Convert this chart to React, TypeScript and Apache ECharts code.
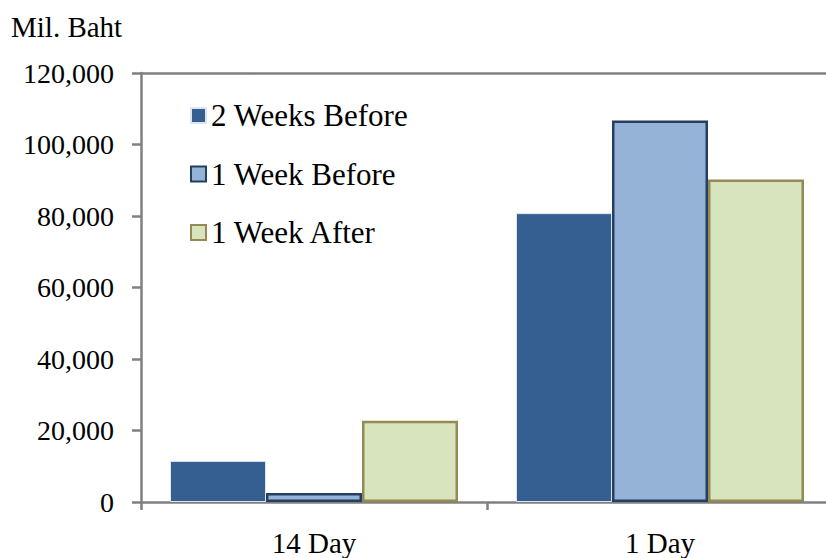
import React, { useEffect, useRef } from "react";
import * as echarts from "echarts";

const categories = ["14 Day", "1 Day"];
const seriesNames = ["2 Weeks Before", "1 Week Before", "1 Week After"];
const twoWeeksBefore = [11500, 80800];
const oneWeekBefore = [2500, 106700];
const oneWeekAfter = [22700, 90200];
const yTicks = [0, 20000, 40000, 60000, 80000, 100000, 120000];

const FONT = "Liberation Serif";

export default function App() {
  const ref = useRef<HTMLDivElement>(null);
  useEffect(() => {
    if (!ref.current) return;
    document.body.style.margin = "0";
    document.body.style.overflow = "hidden";
    const chart = echarts.init(ref.current, null, { renderer: "svg" });
    const fmt = (v: number) => v.toLocaleString("en-US");
    chart.setOption({
      animation: false,
      textStyle: { fontFamily: FONT, color: "#000" },
      graphic: [
        {
          type: "text",
          left: 11,
          top: 12,
          style: { text: "Mil. Baht", fontFamily: FONT, fontSize: 29, fill: "#000" },
        },
      ],
      legend: {
        orient: "vertical",
        left: 185,
        top: 95,
        itemGap: 27.5,
        itemWidth: 15,
        itemHeight: 15,
        icon: "rect",
        data: seriesNames,
        textStyle: { fontFamily: FONT, fontSize: 31, color: "#000", lineHeight: 30 },
      },
      grid: { left: 141, top: 73, width: 692, height: 429, outerBoundsMode: "none" },
      xAxis: [
        {
          type: "category",
          data: categories,
          axisLine: { show: true, lineStyle: { color: "#808080", width: 2.5 } },
          axisTick: { show: true, length: 8, lineStyle: { color: "#808080", width: 2.5 } },
          axisLabel: { fontFamily: FONT, fontSize: 29, color: "#000", margin: 26 },
        },
        {
          type: "category",
          data: categories,
          position: "top",
          axisLine: { show: true, lineStyle: { color: "#808080", width: 2.5 } },
          axisTick: { show: false },
          axisLabel: { show: false },
        },
      ],
      yAxis: {
        type: "value",
        min: yTicks[0],
        max: yTicks[yTicks.length - 1],
        interval: yTicks[1] - yTicks[0],
        axisLine: { show: true, lineStyle: { color: "#808080", width: 2.5 } },
        axisTick: { show: true, length: 9, lineStyle: { color: "#808080", width: 2.5 } },
        splitLine: { show: false },
        axisLabel: { fontFamily: FONT, fontSize: 28, color: "#000", margin: 27, formatter: fmt },
      },
      series: [
        {
          name: seriesNames[0],
          type: "bar",
          data: twoWeeksBefore,
          barWidth: 96,
          barGap: "0%",
          itemStyle: { color: "#365F91", borderColor: "#DCE6F2", borderWidth: 1 },
        },
        {
          name: seriesNames[1],
          type: "bar",
          data: oneWeekBefore,
          barWidth: 96,
          barGap: "0%",
          itemStyle: { color: "#95B3D7", borderColor: "#243F60", borderWidth: 2.5 },
        },
        {
          name: seriesNames[2],
          type: "bar",
          data: oneWeekAfter,
          barWidth: 96,
          barGap: "0%",
          itemStyle: { color: "#D7E4BD", borderColor: "#948A54", borderWidth: 2.5 },
        },
      ],
    });
    return () => chart.dispose();
  }, []);
  return <div ref={ref} style={{ width: 826, height: 558 }} />;
}
